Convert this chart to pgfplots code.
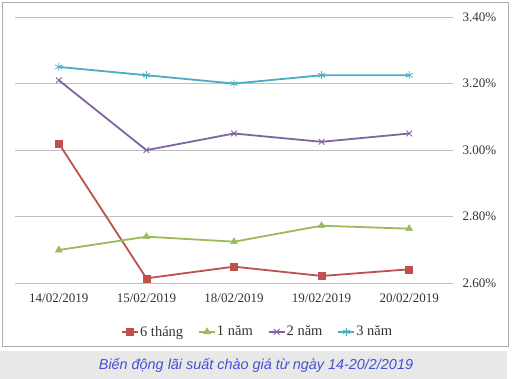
\documentclass[border=0pt]{standalone}
\usepackage{pgfplots}
\pgfplotsset{compat=1.18}
\usepackage{fontspec}
\setmainfont{Liberation Serif}
\newfontfamily\arialfont{Liberation Sans}
\definecolor{c6t}{RGB}{192,80,77}
\definecolor{c1n}{RGB}{155,187,89}
\definecolor{c2n}{RGB}{128,100,162}
\definecolor{c3n}{RGB}{75,172,198}
\definecolor{capblue}{RGB}{70,80,210}
\definecolor{gridgray}{RGB}{190,190,190}
\begin{document}
\begin{tikzpicture}[x=1pt,y=1pt]
\fill[white] (0,0) rectangle (513,379);
\draw[gray!65, line width=1pt] (2.5,32) rectangle (508,376);
\fill[gray!18] (0,0) rectangle (507,28);
\node[font=\arialfont\itshape\fontsize{14.4}{16}\selectfont, text=capblue] at (256,13.5) {Biến động lãi suất chào giá từ ngày 14-20/2/2019};
\begin{axis}[
  at={(15pt,95.7pt)}, anchor=south west,
  scale only axis, width=438pt, height=266.3pt,
  xmin=-0.5, xmax=4.5, ymin=2.6, ymax=3.4,
  axis line style={draw=none},
  major tick length=0pt,
  xtick={0,1,2,3,4},
  xticklabels={14/02/2019,15/02/2019,18/02/2019,19/02/2019,20/02/2019},
  ytick={2.6,2.8,3.0,3.2,3.4},
  yticklabel pos=right,
  yticklabel={\pgfmathprintnumber[fixed,fixed zerofill,precision=2]{\tick}\%},
  /pgf/number format/assume math mode=true,
  ymajorgrids, grid style={gridgray, line width=0.8pt},
  tick label style={font=\fontsize{13}{15}\selectfont, text=black!80},
  xticklabel style={yshift=-7pt},
  yticklabel style={xshift=6pt},
  legend columns=4,
  legend image code/.code={\draw[mark repeat=2,mark phase=2] plot coordinates {(0pt,0pt) (8pt,0pt) (16pt,0pt)};},
  legend style={draw=none, at={(axis description cs:0.553,-0.182)}, anchor=center,
    font=\fontsize{14.5}{16}\selectfont, text=black!80,
    nodes={inner xsep=1pt},
    /tikz/every odd column/.append style={column sep=0pt},
    /tikz/every even column/.append style={column sep=14pt}},
  every axis plot/.append style={line width=1.8pt},
]
\addplot[c6t, mark=square*, mark size=3.5pt, mark options={line width=0.5pt}] coordinates {(0,3.02) (1,2.615) (2,2.65) (3,2.622) (4,2.642)};
\addlegendentry{6 tháng}
\addplot[c1n, mark=triangle*, mark size=4pt, mark options={line width=0.5pt}] coordinates {(0,2.70) (1,2.74) (2,2.725) (3,2.773) (4,2.764)};
\addlegendentry{1 năm}
\addplot[c2n, mark=x, mark size=4pt, mark options={line width=0.8pt}] coordinates {(0,3.21) (1,3.00) (2,3.05) (3,3.025) (4,3.05)};
\addlegendentry{2 năm}
\addplot[c3n, mark=asterisk, mark size=4pt, mark options={line width=0.8pt}] coordinates {(0,3.25) (1,3.225) (2,3.20) (3,3.225) (4,3.225)};
\addlegendentry{3 năm}
\end{axis}
\end{tikzpicture}
\end{document}
